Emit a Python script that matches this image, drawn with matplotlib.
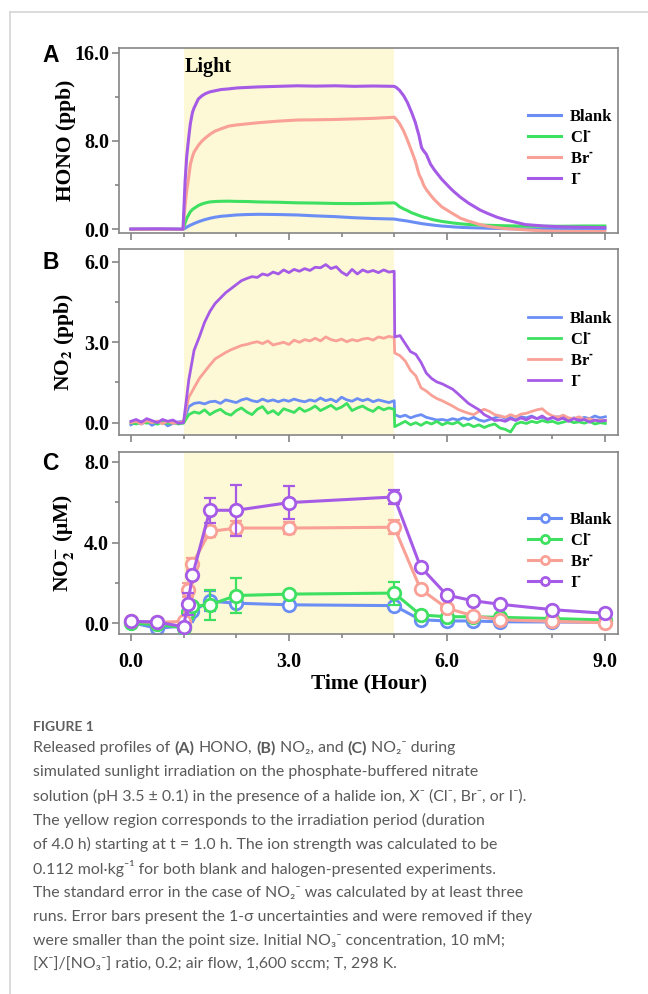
import matplotlib
matplotlib.use('Agg')
import matplotlib.pyplot as plt
from matplotlib.ticker import MultipleLocator, FormatStrFormatter
from matplotlib.lines import Line2D
import numpy as np

# ---------------- data ----------------
series_names = ['Blank', 'Cl$^{\\text{-}}$', 'Br$^{\\text{-}}$', 'I$^{\\text{-}}$']
series_colors = ['#6b8ef5', '#3de060', '#f9a196', '#a55be6']

# (A) HONO, ppb
hono_t = [0.0, 0.5, 0.99, 1.03, 1.06, 1.1, 1.13, 1.17, 1.2, 1.28,
          1.35, 1.42, 1.5, 1.6, 1.71, 1.86, 2.0, 2.2, 2.43, 2.8,
          3.16, 3.5, 3.88, 4.24, 4.6, 5.0, 5.04, 5.1, 5.18, 5.25,
          5.33, 5.4, 5.47, 5.52, 5.56, 5.61, 5.69, 5.76, 5.9, 6.05,
          6.12, 6.26, 6.41, 6.63, 6.77, 6.95, 7.13, 7.49, 7.85, 8.2,
          8.6, 9.0]
hono_blank = [0.0, 0.0, 0.0, 0.1, 0.2, 0.3, 0.38, 0.46, 0.53, 0.68,
              0.8, 0.9, 1.0, 1.1, 1.18, 1.24, 1.3, 1.34, 1.36, 1.34,
              1.3, 1.22, 1.15, 1.05, 0.98, 0.93, 0.9, 0.85, 0.8, 0.75,
              0.68, 0.62, 0.56, 0.52, 0.49, 0.46, 0.41, 0.37, 0.3, 0.25,
              0.22, 0.18, 0.15, 0.12, 0.1, 0.08, 0.06, 0.04, 0.03, 0.03,
              0.03, 0.03]
hono_cl = [0.0, 0.0, 0.0, 0.6, 1.0, 1.35, 1.6, 1.8, 1.9, 2.15,
           2.3, 2.4, 2.48, 2.52, 2.54, 2.55, 2.53, 2.52, 2.48, 2.45,
           2.4, 2.38, 2.34, 2.33, 2.35, 2.4, 2.3, 2.05, 1.85, 1.7,
           1.5, 1.38, 1.25, 1.17, 1.1, 1.05, 0.93, 0.85, 0.72, 0.62,
           0.57, 0.5, 0.44, 0.39, 0.37, 0.34, 0.32, 0.29, 0.28, 0.28,
           0.3, 0.3]
hono_br = [0.0, 0.0, 0.0, 2.2, 3.5, 4.8, 5.9, 6.6, 7.0, 7.6,
           8.0, 8.3, 8.6, 8.9, 9.1, 9.35, 9.45, 9.55, 9.66, 9.8,
           9.9, 9.92, 9.95, 10.0, 10.05, 10.15, 9.97, 9.6, 8.9, 8.1,
           7.1, 6.2, 5.0, 4.5, 4.0, 3.6, 3.1, 2.7, 2.05, 1.6,
           1.4, 1.0, 0.75, 0.43, 0.28, 0.15, 0.06, -0.05, -0.15, -0.18,
           -0.19, -0.2]
hono_i = [0.03, 0.05, 0.02, 4.4, 6.6, 8.4, 9.6, 10.6, 11.0, 11.8,
          12.1, 12.3, 12.45, 12.55, 12.66, 12.72, 12.8, 12.85, 12.9, 12.95,
          13.0, 12.97, 13.0, 12.95, 12.98, 12.95, 12.85, 12.6, 12.1, 11.5,
          10.6, 9.7, 8.5, 7.4, 7.1, 6.8, 5.9, 5.4, 4.55, 3.8,
          3.47, 2.9, 2.38, 1.75, 1.45, 1.1, 0.84, 0.43, 0.3, 0.22,
          0.18, 0.15]

# (B) NO2, ppb -- samples every 0.1 h, lamp off right after t = 5.0
no2_t = np.r_[np.arange(0, 5.01, 0.1), np.arange(5.01, 9.02, 0.1)]
no2_blank = [-0.08, 0.02, -0.05, 0.05, -0.1, 0.0, 0.04, -0.12, -0.02, 0.03,
             0.05, 0.6, 0.72, 0.75, 0.7, 0.78, 0.8, 0.72, 0.85, 0.8,
             0.75, 0.85, 0.9, 0.82, 0.78, 0.88, 0.8, 0.85, 0.78, 0.85,
             0.8, 0.88, 0.82, 0.78, 0.85, 0.8, 0.92, 0.82, 0.88, 0.78,
             0.95, 0.85, 0.8, 0.9, 0.82, 0.88, 0.78, 0.85, 0.8, 0.75,
             0.82,
             0.3, 0.22, 0.28, 0.18, 0.25, 0.3, 0.2, 0.15, 0.1, 0.12,
             0.08, 0.15, 0.1, 0.18, 0.12, 0.2, 0.1, 0.05, 0.12, 0.18,
             0.25, 0.15, 0.2, 0.1, 0.22, 0.18, 0.25, 0.15, 0.2, 0.12,
             0.18, 0.22, 0.15, 0.1, 0.18, 0.12, 0.2, 0.15, 0.25, 0.18,
             0.22]
no2_cl = [0.0, -0.05, 0.03, -0.02, 0.05, -0.06, 0.02, -0.03, 0.0, -0.05,
          -0.02, 0.3, 0.4, 0.35, 0.48, 0.3, 0.42, 0.5, 0.35, 0.28,
          0.45, 0.55, 0.4, 0.3, 0.5, 0.6, 0.35, 0.45, 0.3, 0.52,
          0.45, 0.38, 0.55, 0.42, 0.5, 0.62, 0.45, 0.55, 0.65, 0.5,
          0.58, 0.72, 0.45, 0.55, 0.62, 0.5, 0.42, 0.58, 0.48, 0.55,
          0.5,
          -0.15, -0.05, 0.05, -0.08, 0.0, -0.1, 0.02, -0.05, 0.05, -0.08,
          0.0, -0.05, 0.03, -0.12, -0.05, -0.15, -0.08, -0.18, -0.1, -0.05,
          -0.2, -0.25, -0.35, -0.05, 0.02, -0.03, 0.05, 0.0, 0.08, 0.02,
          0.05, -0.03, 0.02, 0.08, 0.0, 0.03, -0.02, 0.05, -0.05, 0.0,
          -0.03]
no2_br = [0.0, 0.05, -0.05, 0.08, 0.0, 0.06, -0.04, 0.05, -0.02, 0.0,
          0.05, 0.95, 1.3, 1.65, 1.9, 2.15, 2.38, 2.5, 2.62, 2.72,
          2.8, 2.88, 2.92, 2.98, 3.02, 2.95, 3.05, 2.9, 2.95, 3.0,
          2.92, 3.08, 3.0, 3.1, 3.05, 3.15, 3.05, 3.2, 3.1, 3.05,
          3.12, 3.02, 3.1, 3.05, 3.12, 3.15, 3.08, 3.2, 3.15, 3.22,
          3.18,
          2.6, 2.5, 2.3, 1.95, 1.75, 1.3, 1.18, 1.02, 0.9, 0.82,
          0.72, 0.62, 0.5, 0.42, 0.35, 0.3, 0.42, 0.5, 0.42, 0.3,
          0.25, 0.2, 0.3, 0.22, 0.32, 0.35, 0.42, 0.48, 0.52, 0.35,
          0.25, 0.2, 0.28, 0.18, 0.15, 0.22, 0.12, 0.15, 0.08, 0.1,
          0.08]
no2_i = [0.05, 0.12, 0.02, 0.15, 0.08, 0.0, 0.12, 0.05, 0.1, -0.02,
         0.0, 1.6, 2.7, 3.2, 3.75, 4.15, 4.45, 4.65, 4.85, 5.0,
         5.15, 5.3, 5.38, 5.45, 5.42, 5.55, 5.5, 5.62, 5.55, 5.7,
         5.6, 5.72, 5.65, 5.75, 5.68, 5.8, 5.78, 5.9, 5.75, 5.82,
         5.62, 5.5, 5.72, 5.55, 5.7, 5.62, 5.68, 5.6, 5.7, 5.62,
         5.65,
         3.2, 3.25, 2.95, 2.65, 2.55, 2.25, 1.85, 1.65, 1.52, 1.45,
         1.35, 1.25, 1.08, 0.9, 0.72, 0.6, 0.48, 0.3, 0.2, 0.08,
         0.1, 0.05, 0.15, 0.08, 0.18, 0.1, 0.22, 0.15, 0.25, 0.12,
         0.2, 0.1, 0.18, 0.05, 0.15, 0.08, 0.12, 0.02, 0.1, 0.05,
         0.08]

# (C) NO2- in solution, uM, with 1-sigma errors (0 = not shown)
nit_t = [0.0, 0.5, 1.0, 1.08, 1.17, 1.5, 2.0, 3.0, 5.0, 5.5, 6.0, 6.5, 7.0, 8.0, 9.0]
nit_blank = [0.05, -0.25, -0.12, 0.35, 0.6, 1.1, 1.0, 0.92, 0.88, 0.18, 0.12, 0.12, 0.08, 0.07, 0.05]
nit_cl = [0.0, -0.05, -0.22, 0.55, 0.85, 0.92, 1.38, 1.45, 1.5, 0.42, 0.33, 0.33, 0.3, 0.24, 0.17]
nit_br = [0.1, 0.05, 0.1, 1.65, 2.95, 4.55, 4.72, 4.72, 4.76, 1.7, 0.75, 0.38, 0.18, 0.1, 0.03]
nit_i = [0.1, 0.07, -0.17, 0.97, 2.38, 5.6, 5.6, 5.98, 6.26, 2.8, 1.4, 1.12, 0.95, 0.68, 0.5]
err_blank = [0, 0, 0, 0.3, 0, 0.5, 0, 0, 0, 0, 0, 0, 0, 0, 0]
err_cl = [0, 0, 0, 0.35, 0, 0.74, 0.85, 0, 0.57, 0, 0, 0, 0, 0, 0]
err_br = [0, 0, 0, 0.35, 0.3, 0.25, 0.35, 0.3, 0.35, 0, 0, 0, 0, 0, 0]
err_i = [0, 0, 0, 0.55, 0, 0.62, 1.27, 0.8, 0.33, 0, 0, 0, 0, 0, 0]

caption_lines = [
    'simulated sunlight irradiation on the phosphate-buffered nitrate',
    'solution (pH 3.5 \u00b1 0.1) in the presence of a halide ion, X\u207b (Cl\u207b, Br\u207b, or I\u207b).',
    'The yellow region corresponds to the irradiation period (duration',
    'of 4.0 h) starting at t = 1.0 h. The ion strength was calculated to be',
    '0.112 mol\u00b7kg\u207b\u00b9 for both blank and halogen-presented experiments.',
    'The standard error in the case of NO\u2082\u207b was calculated by at least three',
    'runs. Error bars present the 1-\u03c3 uncertainties and were removed if they',
    'were smaller than the point size. Initial NO\u2083\u207b concentration, 10 mM;',
    '[X\u207b]/[NO\u2083\u207b] ratio, 0.2; air flow, 1,600 sccm; T, 298 K.',
]

# ---------------- style ----------------
plt.rcParams['font.family'] = ['Liberation Serif', 'DejaVu Serif']
plt.rcParams['font.weight'] = 'bold'
plt.rcParams['axes.labelweight'] = 'bold'
plt.rcParams['mathtext.fontset'] = 'stix'

W_PX, H_PX = 648, 994
fig = plt.figure(figsize=(W_PX / 100, H_PX / 100), dpi=100)

def box(top, bottom, left=119.3, right=618.0):
    return [left / W_PX, 1 - bottom / H_PX, (right - left) / W_PX, (bottom - top) / H_PX]

axA = fig.add_axes(box(47.7, 233.3))
axB = fig.add_axes(box(249.3, 435.0))
axC = fig.add_axes(box(451.7, 634.3))

spine_col = '#858585'
tick_fs = 14.5
label_fs = 15.5
leg_prop = dict(family=['Liberation Serif', 'DejaVu Serif'], weight='bold', size=12)

def style_axes(ax, ylo, yhi, ystep, show_x):
    ax.set_xlim(-0.22, 9.25)
    ax.set_ylim(ylo, yhi)
    ax.axvspan(1.0, 5.0, facecolor='#fdf8d5', edgecolor='none', zorder=0)
    for s in ax.spines.values():
        s.set_color(spine_col)
        s.set_linewidth(1.2)
    ax.xaxis.set_major_locator(MultipleLocator(3))
    ax.xaxis.set_minor_locator(MultipleLocator(1))
    ax.yaxis.set_major_locator(MultipleLocator(ystep))
    ax.yaxis.set_minor_locator(MultipleLocator(ystep / 2))
    ax.xaxis.set_major_formatter(FormatStrFormatter('%.1f'))
    ax.yaxis.set_major_formatter(FormatStrFormatter('%.1f'))
    ax.tick_params(which='both', direction='out', color=spine_col, width=1.2,
                   labelsize=tick_fs, labelcolor='black')
    ax.tick_params(which='major', length=5)
    ax.tick_params(which='minor', length=3)
    ax.tick_params(axis='y', pad=2.5)
    ax.tick_params(axis='x', pad=8, labelbottom=show_x)
    ax.yaxis.set_label_coords(-0.087, 0.5)

style_axes(axA, -0.36, 16.45, 8.0, False)
style_axes(axB, -0.46, 6.47, 3.0, False)
style_axes(axC, -0.54, 8.5, 4.0, True)

# (A)
for name, col, vals in zip(series_names, series_colors, [hono_blank, hono_cl, hono_br, hono_i]):
    axA.plot(hono_t, vals, color=col, lw=2.2, label=name)
axA.set_ylabel('HONO (ppb)', fontsize=label_fs)
axA.text(1.03, 0.895, 'Light', transform=axA.get_xaxis_transform(),
         fontsize=14.5, va='center', ha='left')

# (B)
for name, col, vals in zip(series_names, series_colors, [no2_blank, no2_cl, no2_br, no2_i]):
    axB.plot(no2_t, vals, color=col, lw=2.0, label=name)
axB.set_ylabel('NO$_\\mathbf{2}$ (ppb)', fontsize=label_fs)

# (C)
t_c = np.array(nit_t)
for i, (name, col, vals, errs) in enumerate(zip(series_names, series_colors,
                                                 [nit_blank, nit_cl, nit_br, nit_i],
                                                 [err_blank, err_cl, err_br, err_i])):
    vals = np.array(vals)
    errs = np.array(errs)
    m = errs > 0
    axC.errorbar(t_c[m], vals[m], yerr=errs[m], fmt='none', ecolor=col,
                 elinewidth=1.6, capsize=4.5, capthick=1.6, zorder=2 + i)
    axC.plot(t_c, vals, '-o', color=col, lw=2.2, ms=9, mfc='white', mec=col,
             mew=2.0, label=name, zorder=2.5 + i)
axC.set_ylabel('NO$_\\mathbf{2}^{\\mathbf{-}}$ (\u03bcM)', fontsize=label_fs)
axC.set_xlabel('Time (Hour)', fontsize=label_fs)
axC.xaxis.set_label_coords(0.5, -0.215)

for ax in (axA, axB, axC):
    ax.legend(loc='upper left', bbox_to_anchor=(0.8195, 0.668), frameon=False,
              prop=leg_prop, handlelength=2.0, handletextpad=0.5, labelspacing=0.3,
              borderpad=0, borderaxespad=0, markerscale=0.65)

# panel letters
for letter, ypx in [('A', 55), ('B', 262), ('C', 463)]:
    fig.text(42 / W_PX, 1 - ypx / H_PX, letter, family='Liberation Sans',
             weight='bold', fontsize=16.5, va='center', ha='left')

# page frame lines
frame_col = '#d6d6d6'
fig.add_artist(Line2D([10 / W_PX, 10 / W_PX], [0, 1 - 12 / H_PX],
                      transform=fig.transFigure, color=frame_col, lw=1.2))
fig.add_artist(Line2D([10 / W_PX, 1], [1 - 12 / H_PX, 1 - 12 / H_PX],
                      transform=fig.transFigure, color=frame_col, lw=1.2))

# ---------------- caption ----------------
cap_font = ['Lato', 'DejaVu Sans']
cap_col = '#5a5a5a'
cap_fs = 11.4
x0 = 33 / W_PX
fig.text(x0, 1 - 727 / H_PX, 'FIGURE 1', family=cap_font, weight='bold',
         fontsize=10, color='#606060', va='center', ha='left')

# first line has bold panel tags, so build it piece by piece
renderer = fig.canvas.get_renderer()
pieces = [('Released profiles of', 'normal'), ('(A)', 'bold'), ('HONO,', 'normal'),
          ('(B)', 'bold'), ('NO\u2082, and', 'normal'), ('(C)', 'bold'),
          ('NO\u2082\u207b during', 'normal')]
probe1 = fig.text(0, 0, 'a a', family=cap_font, fontsize=cap_fs, weight='normal')
probe2 = fig.text(0, 0, 'aa', family=cap_font, fontsize=cap_fs, weight='normal')
space_px = probe1.get_window_extent(renderer).width - probe2.get_window_extent(renderer).width
probe1.remove()
probe2.remove()
xpx = 33.0
y1 = 1 - 748 / H_PX
for txt, wt in pieces:
    t = fig.text(xpx / W_PX, y1, txt, family=cap_font, fontsize=cap_fs, weight=wt,
                 color=cap_col, va='center', ha='left')
    xpx = t.get_window_extent(renderer).x1 + space_px

for k, line in enumerate(caption_lines):
    fig.text(x0, 1 - (748 + 24.1 * (k + 1)) / H_PX, line, family=cap_font,
             fontsize=cap_fs, weight='normal', color=cap_col, va='center', ha='left')

fig.savefig('out.png', dpi=100)
